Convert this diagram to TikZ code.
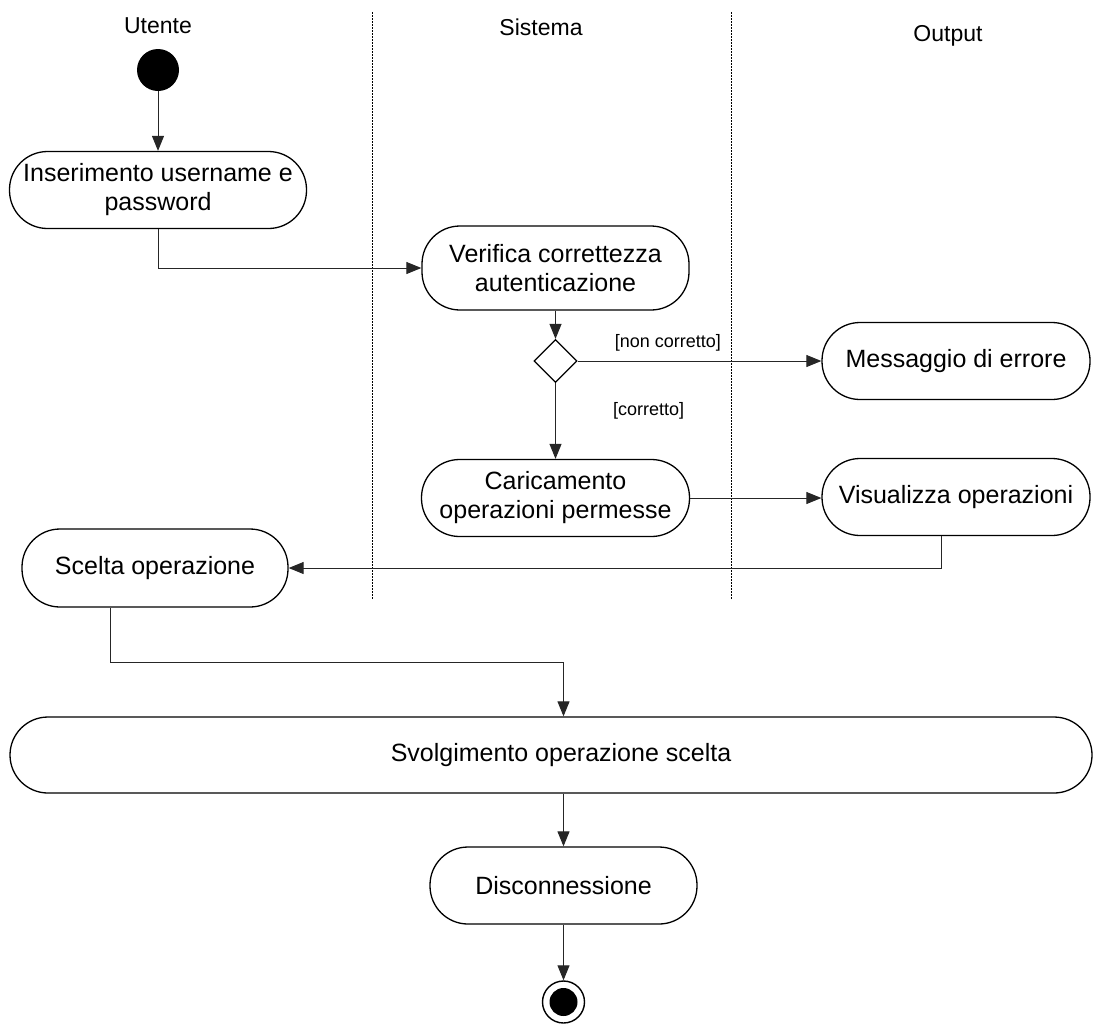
\documentclass[tikz,border=0pt]{standalone}
\usepackage{fontspec}
\setmainfont{Liberation Sans}
\usetikzlibrary{arrows.meta,shapes.geometric}
\begin{document}
\begin{tikzpicture}[x=1pt,y=-1pt,
  action/.style={draw=black, line width=1.3pt, rounded corners=38pt,
    inner sep=0pt, align=center, font=\fontsize{25}{29}\selectfont},
  lane/.style={line width=0.9pt, dash pattern=on 1.5pt off 1.5pt},
  flow/.style={line width=1pt, draw=black!85,
    -{Triangle[length=15pt,width=12pt]}},
  guard/.style={font=\fontsize{18}{20}\selectfont, inner sep=0pt},
  title/.style={font=\fontsize{23}{26}\selectfont, anchor=base, inner sep=0pt}]

\useasboundingbox (0,0) rectangle (1094,1026);

% swimlane titles and separators
\node[title] (tU) at (158,33) {Utente};
\node[title] (tS) at (541,35) {Sistema};
\node[title] (tO) at (948,41) {Output};
\draw[lane] (372,12) -- (372,600);
\draw[lane] (731,12) -- (731,600);

% start / end markers
\node[circle, fill=black, minimum size=42pt, inner sep=0pt] (start) at (158,70) {};
\node[circle, draw=black, line width=1.4pt, minimum size=42pt, inner sep=0pt] (stop) at (563.5,1002) {};
\node[circle, fill=black, minimum size=28pt, inner sep=0pt] (stopin) at (563.5,1002) {};

% actions
\node[action, minimum width=297pt, minimum height=77pt] (login) at (158,190)
  {Inserimento username e\\password};
\node[action, minimum width=267pt, minimum height=84pt] (verify) at (555.5,268)
  {Verifica correttezza\\autenticazione};
\node[diamond, draw=black, line width=1.2pt, minimum width=43pt, minimum height=43pt,
  inner sep=0pt] (dec) at (555.5,361) {};
\node[action, minimum width=268pt, minimum height=77pt] (err) at (956,361)
  {Messaggio di errore};
\node[action, minimum width=268pt, minimum height=77pt] (load) at (555.5,498)
  {Caricamento\\operazioni permesse};
\node[action, minimum width=268pt, minimum height=77pt] (show) at (956,497)
  {Visualizza operazioni};
\node[action, minimum width=266pt, minimum height=78pt] (choice) at (155,568)
  {Scelta operazione};
\node[action, minimum width=1082pt, minimum height=76pt] (run) at (551,755)
  {\hspace*{20pt}Svolgimento operazione scelta};
\node[action, minimum width=267pt, minimum height=77pt] (disc) at (563.5,885.5)
  {Disconnessione};

% flows
\draw[flow] (start) -- (login);
\draw[flow] (login.south) |- (verify.west);
\draw[flow] (verify) -- (dec);
\draw[flow] (dec.east) -- (err.west)
  node[guard, pos=0.37, above=9pt] (gno) {[non corretto]};
\draw[flow] (dec.south) -- (load.north)
  node[guard, pos=0.36, right=57pt] (gyes) {[corretto]};
\draw[flow] (load.east) -- (load.east -| show.west);
\draw[flow] ([xshift=-15pt]show.south) |- (choice.east);
\draw[flow] ([xshift=-45pt]choice.south) -- ++(0,55) -| (run.north -| disc);
\draw[flow] (run.south -| disc) -- (disc.north);
\draw[flow] (disc) -- (stop);

\end{tikzpicture}
\end{document}
